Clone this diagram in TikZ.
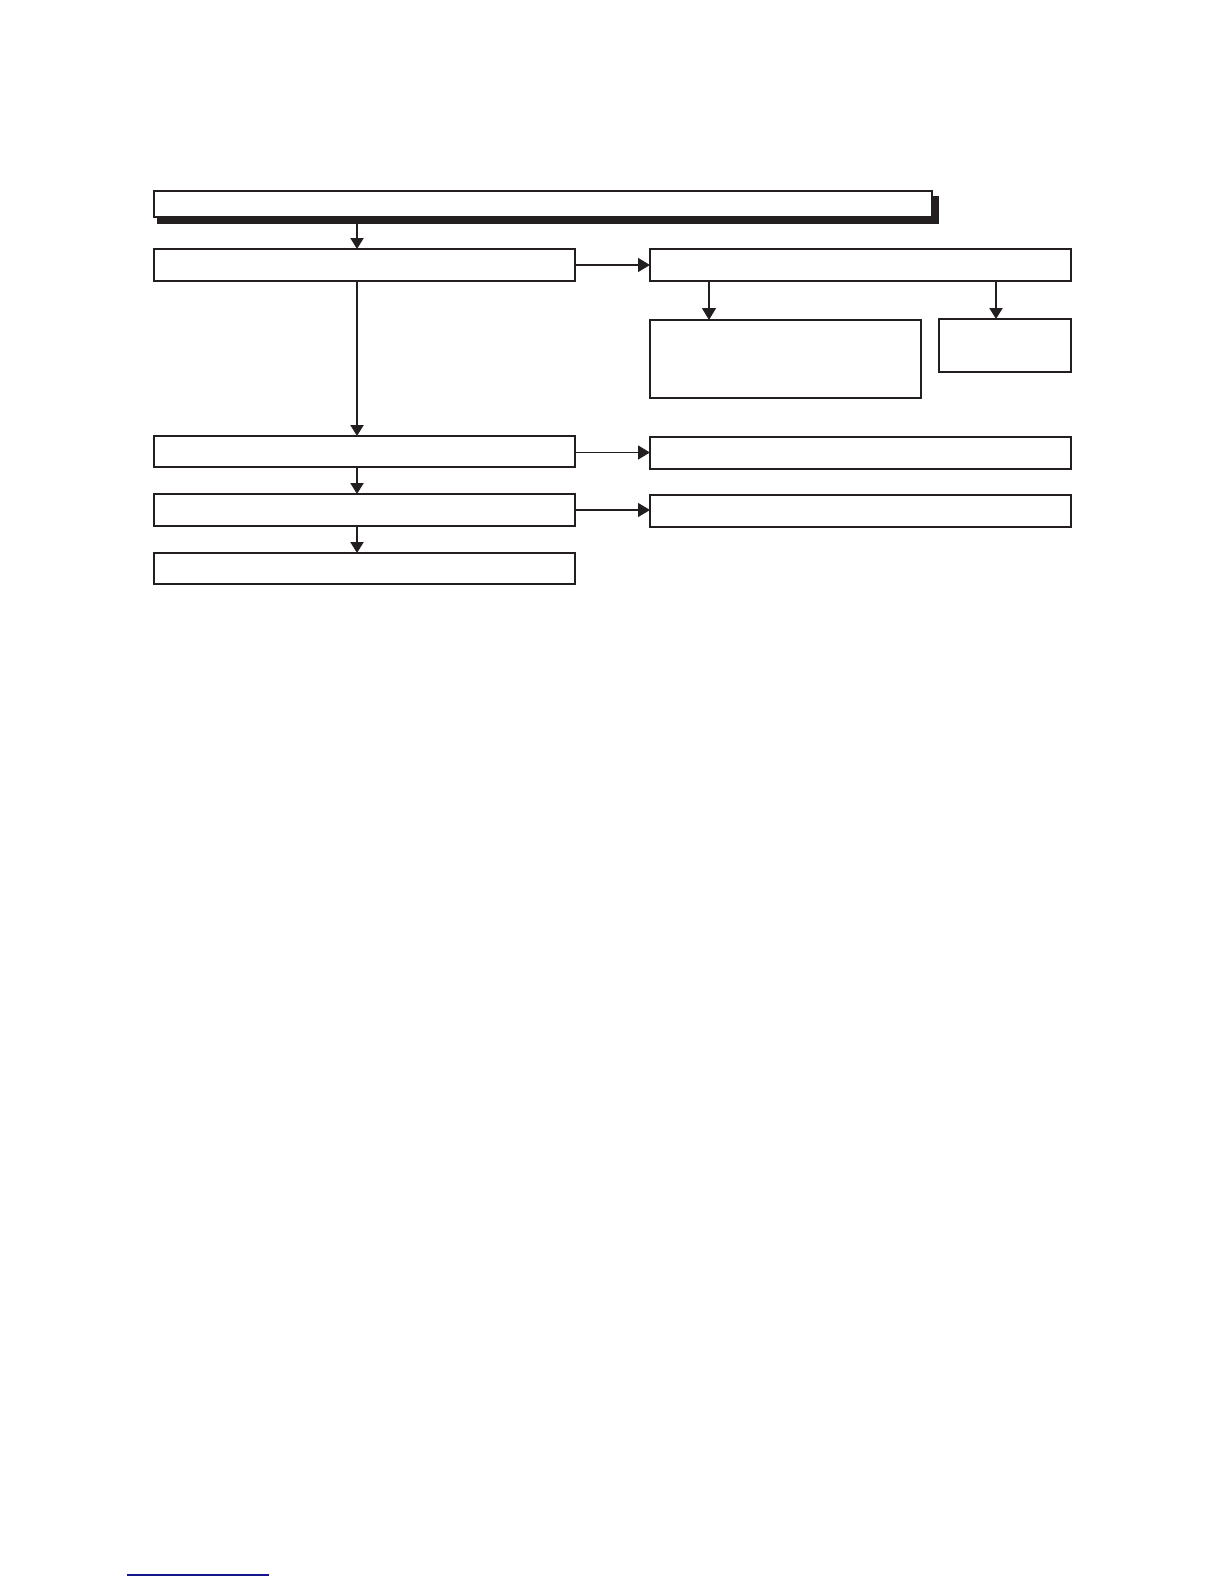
\documentclass[tikz,border=0pt]{standalone}
\usetikzlibrary{arrows.meta}
\definecolor{ink}{RGB}{35,31,32}
\definecolor{rule}{RGB}{20,20,140}
\begin{document}
\begin{tikzpicture}[x=0.5pt,y=-0.5pt,
  box/.style={draw=ink,line width=0.6pt,fill=white,rectangle,inner sep=0pt,outer sep=0pt},
  link/.style={draw=ink,line width=0.6pt,-{Triangle[length=6pt,width=7pt]}},
  stem/.style={draw=ink,line width=1.1pt,-{Triangle[length=5.5pt,width=6.5pt]}}]
\useasboundingbox (0,0) rectangle (1224,1584);
% shadow of title box
\fill[ink] (157,196) rectangle (939,224);
\node[box,minimum width=389pt,minimum height=13pt] (top) at (543,204) {};
\node[box,minimum width=210.5pt,minimum height=16pt] (b1) at (364.5,265) {};
\node[box,minimum width=210.5pt,minimum height=16pt] (r1) at (860.5,265) {};
\node[box,minimum width=135.5pt,minimum height=39pt] (s1) at (785.5,359) {};
\node[box,minimum width=66pt,minimum height=26.5pt] (s2) at (1005,345.5) {};
\node[box,minimum width=210.5pt,minimum height=15.5pt] (b2) at (364.5,451.5) {};
\node[box,minimum width=210.5pt,minimum height=16pt] (r2) at (860.5,453) {};
\node[box,minimum width=210.5pt,minimum height=16pt] (b3) at (364.5,510) {};
\node[box,minimum width=210.5pt,minimum height=16pt] (r3) at (860.5,511) {};
\node[box,minimum width=210.5pt,minimum height=15.5pt] (b4) at (364.5,568.5) {};
\coordinate (t0) at (357,224);
\draw[stem] (t0) -- (t0 |- b1.north);
\draw[stem] (b1.south -| t0) -- (t0 |- b2.north);
\draw[stem] (b2.south -| t0) -- (t0 |- b3.north);
\draw[stem] (b3.south -| t0) -- (t0 |- b4.north);
\draw[link] (b1.east) -- (r1.west);
\draw[link] (b2.east) ++(0,1) coordinate (c2) (c2) -- (c2 -| r2.west);
\draw[link] (b3.east) -- (b3.east -| r3.west);
\coordinate (a1) at (709,281);
\coordinate (a2) at (996,281);
\draw[link] (a1) -- (a1 |- s1.north);
\draw[stem] (a2) -- (a2 |- s2.north);
% rule at the foot of the page
\coordinate (f0) at (127,1575);
\coordinate (f1) at (269,1575);
\draw[rule,line width=0.6pt] (f0) -- (f1);
\end{tikzpicture}
\end{document}
